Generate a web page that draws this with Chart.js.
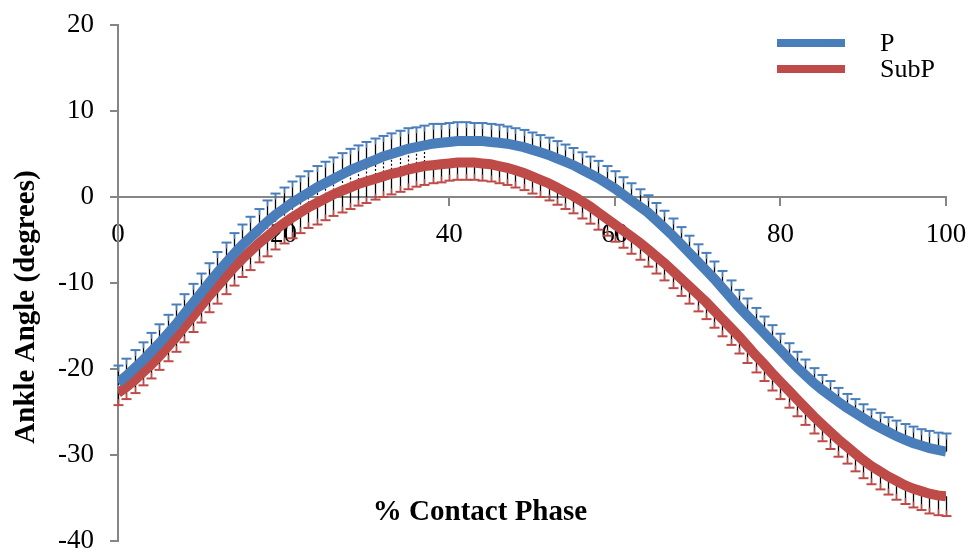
<!DOCTYPE html>
<html>
<head>
<meta charset="utf-8">
<script src="https://cdn.jsdelivr.net/npm/chart.js@4.4.1/dist/chart.umd.min.js"></script>
<style>
    body { margin: 0; background: white; }
    #wrap { width: 973px; height: 553px; }
</style>
</head>
<body>
<div id="wrap"><canvas id="ankleChart" width="973" height="553"></canvas></div>
<script>
const seriesNames = ["P", "SubP"]
const seriesColors = ["#4a7ebb", "#be4b48"]

// ankle angle (degrees) at each 1% of the contact phase, 0..100
const pValues = [
    -21.6, -20.8, -19.9, -19.0, -18.0, -17.0, -15.9, -14.8, -13.6, -12.4,
    -11.2, -10.0, -8.8, -7.7, -6.6, -5.6, -4.7, -3.8, -2.9, -2.1,
    -1.4, -0.7, -0.1, 0.5, 1.1, 1.6, 2.1, 2.6, 3.1, 3.5,
    3.9, 4.3, 4.7, 5.0, 5.3, 5.6, 5.8, 6.0, 6.2, 6.3,
    6.4, 6.5, 6.5, 6.5, 6.5, 6.4, 6.3, 6.2, 6.0, 5.8,
    5.5, 5.2, 4.9, 4.5, 4.1, 3.7, 3.2, 2.7, 2.2, 1.6,
    1.0, 0.3, -0.4, -1.1, -1.8, -2.7, -3.6, -4.5, -5.5, -6.5,
    -7.5, -8.5, -9.5, -10.6, -11.7, -12.8, -13.8, -14.8, -15.8, -16.8,
    -17.8, -18.8, -19.8, -20.7, -21.6, -22.4, -23.1, -23.8, -24.5, -25.1,
    -25.7, -26.3, -26.8, -27.3, -27.8, -28.2, -28.6, -28.9, -29.2, -29.4,
    -29.6
]
const subPValues = [
    -22.8, -22.1, -21.3, -20.4, -19.5, -18.5, -17.4, -16.3, -15.1, -13.9,
    -12.7, -11.5, -10.4, -9.3, -8.2, -7.2, -6.3, -5.4, -4.6, -3.8,
    -3.1, -2.4, -1.8, -1.2, -0.7, -0.2, 0.3, 0.7, 1.1, 1.5,
    1.8, 2.1, 2.4, 2.7, 2.9, 3.2, 3.4, 3.6, 3.7, 3.8,
    3.9, 4.0, 4.0, 4.0, 3.9, 3.8, 3.6, 3.4, 3.1, 2.8,
    2.4, 2.0, 1.6, 1.1, 0.6, 0.1, -0.5, -1.1, -1.8, -2.5,
    -3.2, -3.9, -4.6, -5.3, -6.1, -6.9, -7.7, -8.6, -9.5, -10.4,
    -11.3, -12.2, -13.2, -14.2, -15.2, -16.2, -17.3, -18.4, -19.4, -20.5,
    -21.5, -22.5, -23.5, -24.5, -25.5, -26.4, -27.3, -28.2, -29.0, -29.8,
    -30.6, -31.3, -31.9, -32.5, -33.0, -33.5, -33.9, -34.2, -34.5, -34.7,
    -34.8
]
// standard deviation bars: P drawn upward, SubP drawn downward
const pErrors = [
    2.0, 2.0, 2.1, 2.1, 2.2, 2.2, 2.2, 2.3, 2.3, 2.3,
    2.3, 2.3, 2.4, 2.4, 2.4, 2.4, 2.4, 2.4, 2.5, 2.5,
    2.5, 2.5, 2.5, 2.5, 2.5, 2.5, 2.5, 2.5, 2.5, 2.5,
    2.5, 2.5, 2.4, 2.4, 2.4, 2.4, 2.3, 2.3, 2.3, 2.2,
    2.2, 2.2, 2.2, 2.1, 2.1, 2.1, 2.1, 2.0, 2.0, 2.0,
    2.0, 2.0, 2.0, 2.0, 2.0, 2.0, 2.0, 2.0, 2.0, 2.0,
    2.0, 2.0, 2.0, 2.0, 2.0, 2.0, 2.0, 2.0, 2.0, 2.0,
    2.0, 2.0, 2.0, 2.0, 2.0, 2.0, 2.0, 1.9, 1.9, 1.9,
    1.9, 1.8, 1.8, 1.8, 1.7, 1.7, 1.7, 1.6, 1.6, 1.6,
    1.6, 1.6, 1.7, 1.7, 1.8, 1.8, 1.9, 1.9, 2.0, 2.0,
    2.1
]
const subPErrors = [
    1.4, 1.4, 1.5, 1.5, 1.6, 1.6, 1.7, 1.7, 1.8, 1.8,
    1.9, 1.9, 2.0, 2.0, 2.1, 2.1, 2.2, 2.2, 2.3, 2.3,
    2.3, 2.4, 2.4, 2.4, 2.5, 2.5, 2.5, 2.5, 2.5, 2.5,
    2.5, 2.4, 2.4, 2.4, 2.3, 2.3, 2.2, 2.2, 2.1, 2.1,
    2.0, 2.0, 2.0, 2.0, 2.0, 2.0, 2.0, 2.0, 2.0, 2.0,
    2.0, 2.0, 2.0, 2.0, 2.0, 2.0, 2.0, 2.0, 2.0, 2.0,
    2.0, 2.0, 2.0, 2.0, 2.0, 2.0, 2.0, 2.0, 2.0, 2.0,
    2.0, 2.0, 2.0, 2.0, 2.0, 2.0, 2.0, 2.0, 2.0, 2.0,
    2.0, 2.0, 2.0, 2.0, 2.0, 2.0, 2.0, 2.0, 2.0, 2.1,
    2.1, 2.1, 2.1, 2.1, 2.2, 2.2, 2.2, 2.2, 2.3, 2.3,
    2.3
]
const xTitle = "% Contact Phase"
const yTitle = "Ankle Angle (degrees)"

var phase = []
for (var i = 0; i < pValues.length; i++) phase.push(i)

const serif = "'Liberation Serif', 'Times New Roman', serif"
const axisGray = "#868686"

// error bars go under the thick lines, like in the spreadsheet chart
const errorBars = {
    id: "errorBars",
    beforeDatasetsDraw(chart) {
        const ctx = chart.ctx
        const yScale = chart.scales.y
        const pMeta = chart.getDatasetMeta(0)
        const sMeta = chart.getDatasetMeta(1)
        ctx.save()
        ctx.lineCap = "butt"

        // short black ticks visible where the two curves run close together
        for (var i = 0; i < phase.length; i++) {
            if (pValues[i] - subPValues[i] > 2.4) continue
            const x = Math.round(pMeta.data[i].x) + 0.5
            ctx.strokeStyle = "#000"
            ctx.lineWidth = 1.2
            ctx.setLineDash([2, 2])
            ctx.beginPath()
            ctx.moveTo(x, sMeta.data[i].y)
            ctx.lineTo(x, pMeta.data[i].y)
            ctx.stroke()
        }
        ctx.setLineDash([])

        const sets = [
            { meta: pMeta, vals: pValues, errs: pErrors, dir: 1, color: seriesColors[0] },
            { meta: sMeta, vals: subPValues, errs: subPErrors, dir: -1, color: seriesColors[1] }
        ]
        sets.forEach(s => {
            for (var i = 0; i < s.vals.length; i++) {
                const x = Math.round(s.meta.data[i].x) + 0.5
                const y0 = s.meta.data[i].y
                const y1 = yScale.getPixelForValue(s.vals[i] + s.dir * s.errs[i])
                ctx.strokeStyle = "#000"
                ctx.lineWidth = 1.3
                ctx.beginPath()
                ctx.moveTo(x, y0)
                ctx.lineTo(x, y1)
                ctx.stroke()
                ctx.strokeStyle = s.color
                ctx.lineWidth = 1.5
                ctx.beginPath()
                ctx.moveTo(x, y1)
                ctx.lineTo(x, y1 + s.dir * 6)
                ctx.stroke()
                ctx.lineWidth = 2
                ctx.beginPath()
                ctx.moveTo(x - 5, y1)
                ctx.lineTo(x + 5, y1)
                ctx.stroke()
            }
        })
        ctx.restore()
    }
}

const labelsAndLegend = {
    id: "labelsAndLegend",
    afterDraw(chart) {
        const ctx = chart.ctx
        const area = chart.chartArea
        ctx.save()
        ctx.fillStyle = "#000"
        ctx.font = "bold 29px " + serif
        ctx.textAlign = "center"
        ctx.textBaseline = "middle"
        ctx.fillText(xTitle, 480, area.bottom - 28)

        ctx.save()
        ctx.translate(27, 307)
        ctx.rotate(-Math.PI / 2)
        ctx.fillText(yTitle, 0, 0)
        ctx.restore()

        ctx.textAlign = "left"
        ctx.font = "26px " + serif
        for (var i = 0; i < seriesNames.length; i++) {
            const ly = 43 + i * 26
            ctx.strokeStyle = seriesColors[i]
            ctx.lineWidth = 8
            ctx.beginPath()
            ctx.moveTo(area.right - 169, ly)
            ctx.lineTo(area.right - 101, ly)
            ctx.stroke()
            ctx.fillText(seriesNames[i], area.right - 66, ly + 1)
        }
        ctx.restore()
    }
}

const chart = new Chart(document.getElementById("ankleChart"), {
    type: "line",
    data: {
        datasets: [
            {
                label: seriesNames[0],
                data: phase.map((p, i) => ({ x: p, y: pValues[i] })),
                borderColor: seriesColors[0],
                borderWidth: 10,
                pointRadius: 0,
                tension: 0
            },
            {
                label: seriesNames[1],
                data: phase.map((p, i) => ({ x: p, y: subPValues[i] })),
                borderColor: seriesColors[1],
                borderWidth: 10,
                pointRadius: 0,
                tension: 0
            }
        ]
    },
    options: {
        responsive: false,
        animation: false,
        events: [],
        layout: { padding: { left: 0, right: 27, top: 25, bottom: 12 } },
        scales: {
            x: {
                type: "linear",
                min: 0,
                max: 100,
                position: { y: 0 },
                ticks: {
                    stepSize: 20,
                    color: "#000",
                    font: { family: serif, size: 27 },
                    padding: 14,
                    maxRotation: 0
                },
                grid: { drawOnChartArea: false, drawTicks: true, tickLength: 8, color: axisGray, lineWidth: 2 },
                border: { color: axisGray, width: 2 },
                afterFit(scale) {
                    scale.height = 0
                    scale.paddingLeft = 0
                    scale.paddingRight = 0
                }
            },
            y: {
                min: -40,
                max: 20,
                ticks: {
                    stepSize: 10,
                    color: "#000",
                    font: { family: serif, size: 27 },
                    padding: 16
                },
                grid: { drawOnChartArea: false, drawTicks: true, tickLength: 8, color: axisGray, lineWidth: 2 },
                border: { color: axisGray, width: 2 },
                afterFit(scale) {
                    scale.width = 118
                    scale.paddingTop = 0
                    scale.paddingBottom = 0
                }
            }
        },
        plugins: {
            legend: { display: false },
            tooltip: { enabled: false }
        }
    },
    plugins: [errorBars, labelsAndLegend]
})
</script>
</body>
</html>
